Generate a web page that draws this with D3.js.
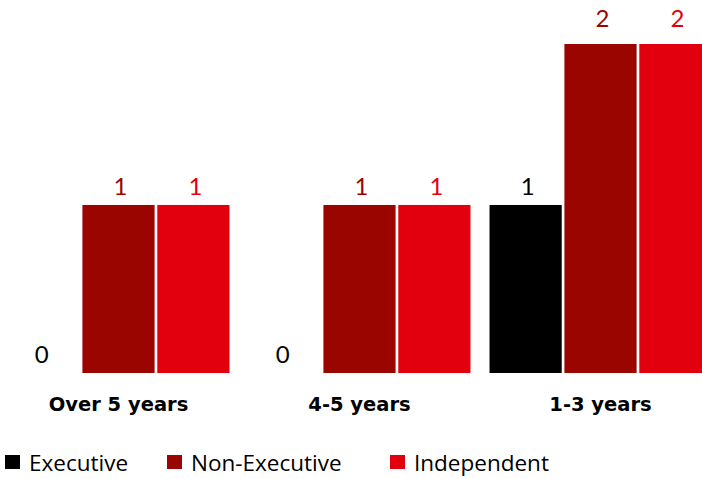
<!DOCTYPE html>
<html>
<head>
<meta charset="utf-8">
<script src="https://cdn.jsdelivr.net/npm/d3@7"></script>
<style>
 body { margin: 0; background: #fff; }
 text { font-family: Lato, "Open Sans", sans-serif; }
</style>
</head>
<body>
<svg width="702" height="479"></svg>
<script>
// Data
var categories = ["Over 5 years", "4-5 years", "1-3 years"];
var seriesNames = ["Executive", "Non-Executive", "Independent"];
var executive = [0, 0, 1];
var nonExecutive = [1, 1, 2];
var independent = [1, 1, 2];
var seriesColors = ["#000000", "#9b0500", "#e2000f"];

var svg = d3.select("svg"),
 width = +svg.attr("width"),
 height = +svg.attr("height");

var rows = categories.map(function (c, i) {
 return { cat: c, values: [executive[i], nonExecutive[i], independent[i]] };
});

// Scales
var x0 = d3.scaleBand()
 .domain(categories)
 .range([-2, 721])
 .paddingInner(0.079)
 .paddingOuter(0.0395);

var x1 = d3.scaleBand()
 .domain(seriesNames)
 .range([0, x0.bandwidth()])
 .paddingInner(0.036);

// value axis; plot area top cuts the tallest bars
var yRaw = d3.scaleLinear().domain([0, 1]).range([373, 205]);
var y = yRaw.copy().clamp(true).domain([0, 1.958]).range([373, 44]);

var color = d3.scaleOrdinal().domain(seriesNames).range(seriesColors);

// Bars
var groups = svg.append("g")
 .selectAll("g")
 .data(rows)
 .enter().append("g")
 .attr("transform", function (d) { return "translate(" + x0(d.cat) + ",0)"; });

var cells = groups.selectAll("g")
 .data(function (d) {
  return d.values.map(function (v, i) { return { key: seriesNames[i], value: v }; });
 })
 .enter().append("g");

cells.append("rect")
 .attr("x", function (d) { return x1(d.key); })
 .attr("width", x1.bandwidth())
 .attr("y", function (d) { return y(d.value); })
 .attr("height", function (d) { return y(0) - y(d.value); })
 .attr("fill", function (d) { return color(d.key); });

// value labels
cells.append("text")
 .attr("x", function (d) { return x1(d.key) + x1.bandwidth() / 2 + (d.value == 0 ? -2 : 2); })
 .attr("y", function (d) { return yRaw(d.value) - 10; })
 .attr("text-anchor", "middle")
 .style("font-size", "24px")
 .attr("fill", function (d) { return d.value == 0 ? "#000" : color(d.key); })
 .text(function (d) { return d.value; });

// Category labels
svg.append("g")
 .selectAll("text")
 .data(categories)
 .enter().append("text")
 .attr("x", function (d) { return x0(d) + x0.bandwidth() / 2; })
 .attr("y", 411)
 .attr("text-anchor", "middle")
 .style("font-family", "'DejaVu Sans', sans-serif")
 .style("font-size", "19.5px")
 .style("font-weight", "bold")
 .attr("fill", "#000")
 .text(function (d) { return d; });

// Legend
var legendX = [5, 167, 390];
var legend = svg.append("g")
 .selectAll("g")
 .data(seriesNames)
 .enter().append("g")
 .attr("transform", function (d, i) { return "translate(" + legendX[i] + ",455)"; });

legend.append("rect")
 .attr("width", 15)
 .attr("height", 14)
 .attr("fill", function (d) { return color(d); });

legend.append("text")
 .attr("x", 24)
 .attr("y", 16)
 .style("font-family", "'Open Sans', sans-serif")
 .style("font-size", "22.5px")
 .attr("fill", "#000")
 .text(function (d) { return d; });
</script>
</body>
</html>
